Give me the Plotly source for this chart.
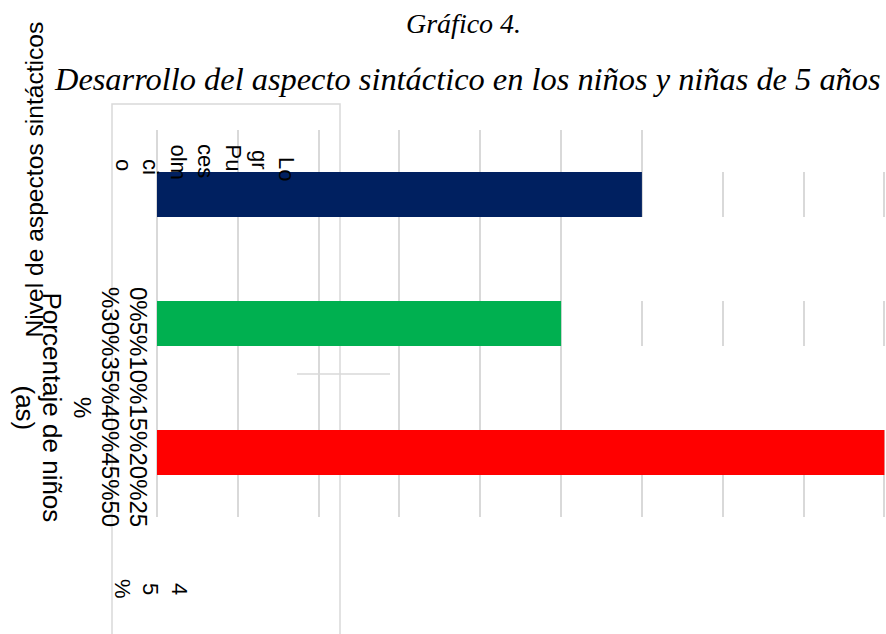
import plotly.graph_objects as go

# ---------------- data ----------------
categories = ["Logro", "Proceso", "Inicio"]
values = [30, 25, 45]
bar_colors = ["#002060", "#00B050", "#FF0000"]
tick_labels = ["0%", "5%", "10%", "15%", "20%", "25%", "30%", "35%", "40%", "45%", "50%"]
# visible (overlapped / clipped) fragments of the category labels, right to left
label_fragments = ["Lo", "gr", "Pu", "ces", "olm", "ci", "o"]
title_top = "Gráfico 4."
title_main = "Desarrollo del aspecto sintáctico en los niños y niñas de 5 años"
y_title = "Nivel de aspectos sintácticos"
x_title_lines = ["Porcentaje de niños", "(as)"]

# ---------------- layout helpers ----------------
WIDTH, HEIGHT = 886, 634
ML, MR, MT, MB = 157, 0, 130, 117
PW = WIDTH - ML - MR
PH = HEIGHT - MT - MB


def xp(px):
    return (px - ML) / PW


def yp(py):
    return (HEIGHT - MB - py) / PH


GRID = "#d9d9d9"
SANS = "Liberation Sans"
SERIF = "Liberation Serif"

fig = go.Figure()
fig.add_trace(go.Bar(
    y=categories, x=values, orientation="h",
    marker=dict(color=bar_colors, line=dict(width=0)),
    width=0.35, hoverinfo="skip", showlegend=False,
))

fig.update_xaxes(
    range=[0, 45.1], autorange=False, dtick=5, showgrid=True, gridcolor=GRID, gridwidth=2,
    zeroline=True, zerolinecolor=GRID, zerolinewidth=2,
    showticklabels=False, showline=False, ticks="",
)
fig.update_yaxes(
    categoryorder="array", categoryarray=categories, autorange=False,
    range=[2.5, -0.5], showgrid=False, zeroline=False,
    showticklabels=False, showline=False, ticks="",
)

shapes = []
# white patches hiding parts of the grid between the bars
for (x0, y0, y1) in [(31.0, -0.5, -0.175), (27.3, 0.175, 0.825), (27.3, 1.175, 1.825)]:
    shapes.append(dict(type="rect", xref="x", yref="y", x0=x0, x1=47, y0=y0, y1=y1,
                       fillcolor="white", line=dict(width=0), layer="between"))
# light grey frame at the left
shapes.append(dict(type="rect", xref="paper", yref="paper",
                   x0=xp(112), x1=xp(340), y0=yp(660), y1=yp(104),
                   line=dict(color=GRID, width=1.5), fillcolor="rgba(0,0,0,0)", layer="below"))
# small horizontal stroke
shapes.append(dict(type="line", xref="paper", yref="paper",
                   x0=xp(297), x1=xp(390), y0=yp(374), y1=yp(374),
                   line=dict(color=GRID, width=1.5), layer="below"))

ann = []


def add_text(text, cx, cy, size, family=SANS, angle=0, yanchor="middle"):
    ann.append(dict(text=text, xref="paper", yref="paper", x=xp(cx), y=yp(cy),
                    showarrow=False, textangle=angle, xanchor="center", yanchor=yanchor,
                    font=dict(family=family, size=size, color="black")))


add_text("<i>" + title_top + "</i>", 463, 23.5, 28, SERIF)
add_text("<i>" + title_main + "</i>", 467, 79.5, 32.4, SERIF)
add_text(y_title, 33.5, 180, 24.6, SANS, -90)
for txt, cx in zip(x_title_lines, [52, 25]):
    add_text(txt, cx, 407.5, 26, SANS, 90)

# wrapped tick labels
joined = "".join(tick_labels)
tick_lines = [joined[i:i + 15] for i in range(0, len(joined), 15)]
for txt, cx in zip(tick_lines, [139, 111, 83]):
    add_text(txt, cx, 407, 24, SANS, 90)

# category label fragments
frag_x = [287, 260, 233, 206, 178, 151, 124]
frag_top = [155, 148, 142, 142, 142, 157, 157]
for txt, cx, top in zip(label_fragments, frag_x, frag_top):
    add_text(txt, cx, top, 22, SANS, 90, yanchor="top")

# wrapped value label at the bottom
value_label = f"{values[2]}%"
for ch, cx in zip(value_label, [180, 151, 123]):
    add_text(ch, cx, 589, 22, SANS, 90)

fig.update_layout(
    width=WIDTH, height=HEIGHT,
    margin=dict(l=ML, r=MR, t=MT, b=MB, pad=0),
    paper_bgcolor="white", plot_bgcolor="rgba(0,0,0,0)",
    shapes=shapes, annotations=ann, bargap=0.65,
)

fig.write_html("out.html", config={"displayModeBar": False},
               post_script="document.body.style.margin='0';")
